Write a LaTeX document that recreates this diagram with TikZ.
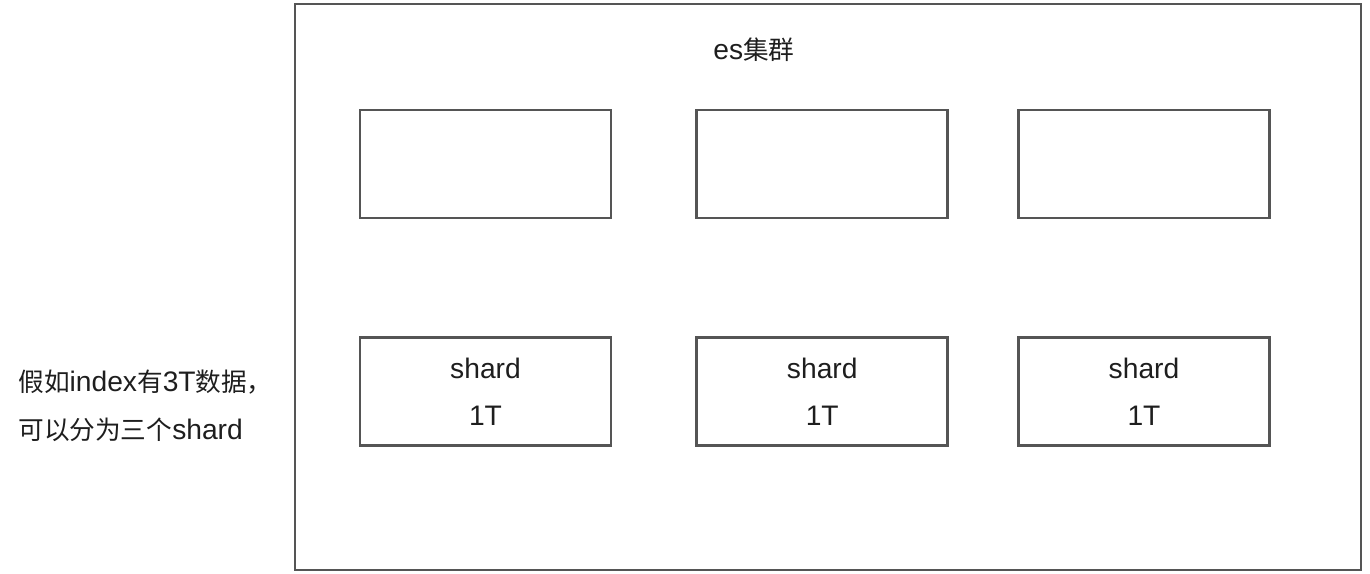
\documentclass[tikz,border=0pt]{standalone}
\usepackage{fontspec}
\setmainfont[Scale=1.1]{Liberation Sans}
\newfontfamily\cjk{Noto Sans CJK SC}
\usetikzlibrary{positioning}
\definecolor{linegray}{HTML}{555555}
\definecolor{textgray}{HTML}{1E1E1E}
\tikzset{
  esbox/.style={draw=linegray, line width=1.6pt, minimum width=5.02cm, minimum height=2.16cm, inner sep=0pt, align=center, font=\fontsize{14.6}{27.2}\selectfont, text=textgray},
  lbl/.style={font=\fontsize{14.6}{27.3}\selectfont, text=textgray, inner sep=0pt}
}

\begin{document}
\begin{tikzpicture}[x=0.02cm,y=-0.02cm]
    	\useasboundingbox (0,0) rectangle (1370,574);
    	\draw[linegray, line width=1.6pt] (295,4) rectangle (1361,570);
    	\node[lbl] (title) at (754,50) {es{\cjk 集群}};
    	% top row
    	\node[esbox] (n1) at (485.5,164) {};
    	\node[esbox, right=1.66cm of n1] (n2) {};
    	\node[esbox, right=1.36cm of n2] (n3) {};
    	% bottom row, shards
    	\node[esbox, below=2.34cm of n1] (s1) {shard\\1T};
    	\node[esbox, below=2.34cm of n2] (s2) {shard\\1T};
    	\node[esbox, below=2.34cm of n3] (s3) {shard\\1T};
    	\node[lbl, anchor=west, align=left] (note) at (18,406) {{\cjk 假如}index{\cjk 有}3T{\cjk 数据，}\\{\cjk 可以分为三个}shard};
\end{tikzpicture}
\end{document}
